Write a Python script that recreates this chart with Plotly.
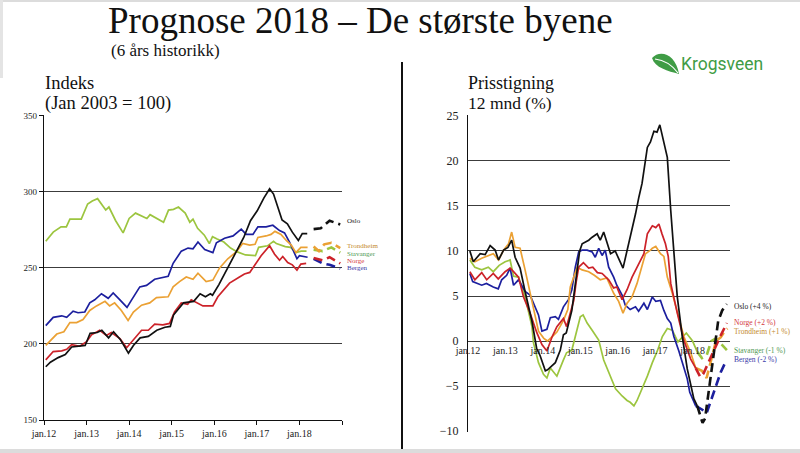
import plotly.graph_objects as go

W, H = 800, 453


def fx(p):
    return p / W


def fy(p):
    return 1 - p / H


# x values: months since Jan 2012
tick_months = [0, 12, 24, 36, 48, 60, 72, 84]
tick_text = ["jan.12", "jan.13", "jan.14", "jan.15", "jan.16", "jan.17", "jan.18", ""]

# ---------------- Left chart: index (Jan 2003 = 100) ----------------
idx_oslo = [(0.5, 185), (1.8, 188), (4, 191), (6, 193), (7.8, 198), (11.6, 199), (13, 207), (15, 207.5),
            (16.3, 209), (18.2, 204), (19.6, 208), (21.5, 203), (23.8, 194), (25.2, 199), (27.1, 204),
            (29.4, 205), (31.8, 209), (34.1, 211), (35.6, 211.5), (36.5, 219), (39.3, 227), (42.2, 228),
            (44, 233), (45.5, 231), (46.9, 233), (47.5, 232), (49.3, 239), (50.2, 243), (51.1, 247),
            (52.5, 253), (54.4, 261), (56.3, 270), (58.2, 281), (60.1, 287.5), (62, 296), (63.6, 302),
            (64.7, 298.5), (66.2, 287.5), (67.1, 281.5), (68.6, 279), (70, 273.5), (71.7, 268),
            (72.8, 272.5), (74.2, 272.5)]
idx_oslo_fc = [(76, 275.5), (78, 276), (80.5, 281), (83.5, 278.5)]

idx_bergen = [(0.5, 212), (2.6, 217.5), (5, 218.5), (6.4, 217.5), (8.2, 221.5), (9.6, 220.5), (11.5, 221),
              (12.9, 227), (14.3, 229), (16.2, 233), (18.1, 230), (19.5, 233.5), (21.4, 229), (23.4, 224),
              (24.7, 229), (27, 237.5), (28.9, 238.5), (31.2, 242.5), (35, 244.5), (36.4, 253), (38.7, 261),
              (40.6, 263), (42, 262.5), (43.4, 267), (45.3, 262), (47.6, 260), (48.6, 266.5), (50.9, 269.5),
              (53.3, 271), (55.6, 275.5), (57, 272), (58.9, 272), (60.3, 277), (62.6, 277), (64.5, 278),
              (66.4, 274.5), (67.8, 273), (69.2, 267), (71.3, 256), (72, 258), (74.3, 257)]
idx_bergen_fc = [(76, 256), (78.5, 253), (80.5, 252), (83.5, 249.5)]

idx_trondheim = [(0.5, 199), (1.5, 201.5), (3.6, 206.5), (5.6, 208), (7.3, 214), (9.2, 214), (11, 216),
                 (12.9, 222), (14.8, 225), (17.2, 228), (18.5, 225), (19.9, 227), (21.8, 222), (23.7, 215.5),
                 (25.2, 221), (27.5, 225.5), (29.8, 227), (31.7, 230.5), (35, 231), (36.4, 237.5),
                 (38.2, 241), (40.1, 244), (42, 242.5), (43.4, 246.5), (45.7, 241), (47.6, 242), (49.5, 250),
                 (51.8, 256), (54.2, 260.5), (56, 266), (58, 265), (59.5, 265.5), (60.3, 270), (62.6, 271),
                 (64, 272), (65.1, 274), (66.8, 272), (68.3, 268), (69.7, 265), (71, 260), (72.4, 263.5),
                 (74.3, 263.5)]
idx_trondheim_fc = [(76, 264), (77.5, 261), (79, 265.5), (81, 266.5), (83.5, 263)]

idx_stavanger = [(0.5, 267.5), (2.6, 273.5), (4.8, 277), (6.3, 277), (7.3, 282), (10.5, 282), (12.3, 292),
                 (13.6, 294), (15.1, 295.5), (17.4, 288), (18.3, 290), (20.2, 281), (22.3, 273), (24, 282.5),
                 (25.8, 286), (27.7, 284), (29, 282.5), (29.9, 285), (31.8, 282.5), (33.7, 280), (35.1, 288),
                 (36.5, 288.5), (37.9, 290), (39.8, 286), (41.1, 280), (42, 282), (43.3, 276), (45.2, 271.5),
                 (46.6, 266), (47.5, 270.5), (48.8, 269), (50.7, 267), (52.6, 263), (54.5, 260.5),
                 (56.8, 258.5), (59.6, 258), (60.5, 263.5), (63, 264.5), (64.7, 267.5), (65.5, 266),
                 (68, 264), (69.5, 263.5), (71, 260), (72.5, 261), (74, 261)]
idx_stavanger_fc = [(76, 262), (78.5, 261), (81, 263.5), (83.5, 260)]

idx_norge = [(0.5, 189.5), (2.6, 195), (5, 195.5), (6.4, 196.5), (7.8, 199.5), (10.1, 198.5), (12, 201.5),
             (13.4, 206), (15.7, 209), (17.6, 205.5), (19, 207.5), (21.4, 203.5), (23.3, 197.5), (25.2, 202.5),
             (27.5, 209), (29.4, 209), (31.2, 213), (33.5, 212.5), (35.4, 213.5), (36.8, 221), (38.7, 227),
             (40.5, 226), (41.5, 229), (44.8, 225), (47.6, 225), (49, 231), (52.3, 240), (55.1, 244),
             (56.5, 246), (58, 247), (59.8, 253), (61.2, 258), (63.6, 264.5), (65, 259), (66.4, 255),
             (67.3, 257.5), (68.7, 253.5), (70, 252), (71.3, 248.5), (72.4, 252.5), (73.9, 253)]
idx_norge_fc = [(76, 256.5), (78.5, 255), (80.5, 257), (83.5, 253)]

# ---------------- Right chart: 12-month price growth (%) ----------------
pct_oslo = [(0.6, 10), (1.7, 8.8), (3.9, 9.7), (5.5, 9.6), (7.1, 10.6), (8.7, 10.1), (9.8, 9), (11.4, 10.1),
            (12.8, 10.4), (14, 11.2), (15.1, 9.3), (16.7, 8.1), (18.3, 5.5), (20.5, 2.2), (22, -0.8),
            (23.1, -1.6), (24.8, -3.3), (25.5, -3.2), (28, -2.4), (29.6, -1), (30.6, 0.7), (31.5, 0.9),
            (33.3, 3.4), (35, 8), (35.8, 10), (36.6, 10.8), (38.7, 11.2), (39.7, 11.5), (41.4, 11.9),
            (42.4, 11.2), (43.5, 12.1), (45.7, 9.7), (47.2, 10), (49.7, 8.1), (51, 10), (52.6, 12.6),
            (53.7, 14.1), (54.8, 16), (55.8, 17.5), (57.5, 21.5), (58.5, 22.1), (59.6, 23.3), (60.6, 23.2),
            (61.5, 24), (62.8, 22.2), (63.9, 20.4), (65, 14.5), (66, 10.1), (67.1, 4.9), (68.7, 0.5),
            (70.3, -3.1), (72.4, -6.4), (73.5, -7.2)]
pct_oslo_fc = [(73.5, -7.2), (74.5, -8.5), (75.2, -9.1), (76, -8.6), (77, -6), (78, -3.2), (79, -0.4),
               (80.2, 2.2), (81.5, 3.4), (83, 4.1)]

pct_norge = [(0.6, 7.7), (2.2, 6.8), (4.4, 7.6), (6, 6.8), (8.1, 7.5), (9.7, 6.9), (11.9, 7.7), (13.5, 8.1),
             (14.6, 7.7), (16.2, 7.1), (17.8, 4.9), (19.9, 3.1), (22.1, 0.9), (23.7, -0.4), (25.3, -1.1),
             (27, 0.5), (28.5, 1.6), (30.6, 2.5), (31.6, 1.6), (33.9, 4.5), (34.7, 6.6), (35.5, 8.2),
             (37, 8.7), (38.7, 8.1), (40, 8.2), (41.5, 7.6), (43, 7.5), (45.1, 6.8), (46.7, 5.9), (47.7, 6),
             (49.4, 4.6), (51, 5.7), (52.6, 7.1), (54.8, 8.6), (56.4, 9.7), (57.5, 11.9), (59.1, 12.8),
             (60.2, 12.6), (61.2, 13), (62.2, 11.9), (63.3, 10.8), (64.2, 9.4), (65, 6.4), (67.1, 3.1),
             (69.2, 0.1), (71.4, -2), (73, -3)]
pct_norge_fc = [(73, -3), (74.5, -4), (75.5, -3.6), (77.5, -2), (79.5, -0.4), (81, 0.6), (83, 2)]

pct_trondheim = [(0.6, 9.2), (2.2, 8.8), (4.4, 9.2), (6.5, 9.5), (8.1, 9.7), (9.8, 9), (11.4, 10.1),
                 (13, 10.8), (14, 12.1), (15.1, 10.4), (16.7, 10.3), (18.3, 7.9), (20.5, 4.6), (22.6, 1.1),
                 (24.3, 0.3), (25.5, 0), (27, 0.5), (28.5, 1), (30.6, 2.3), (32, 3.5), (32.8, 6), (35, 8.2),
                 (36.6, 7.9), (38.7, 7.7), (40.5, 7.3), (42.4, 6.8), (44.5, 7), (46.7, 5.3), (48.3, 4.4),
                 (49.7, 3.1), (51, 4.2), (52.6, 4.9), (54.2, 6.4), (55.8, 8.2), (56.9, 9.7), (58.5, 10.1),
                 (59.1, 10.3), (60.2, 10.5), (61.7, 9.7), (62.8, 9.4), (63.9, 7.1), (65.5, 5.3), (67.1, 3.1),
                 (69.2, 0.5), (71.4, -1.3), (73, -3)]
pct_trondheim_fc = [(73, -3), (75, -3.3), (76.5, -4.1), (78, -2), (79.5, 0), (81, 0.4), (82.5, 1.2), (83.2, 1.4)]

pct_stavanger = [(0.6, 9), (2.2, 8.2), (4.4, 7.9), (6.5, 8.2), (8.1, 7.7), (10, 8.4), (11.9, 8.8), (13.5, 9),
                 (14.6, 7.2), (16.2, 7.1), (18.3, 4.9), (20.5, 1.6), (21, -0.2), (22.6, -2.4), (24.2, -3.7),
                 (25.3, -4.1), (26.4, -3), (28.5, -3.9), (30.6, -2.1), (31.6, -1.3), (33.3, -1), (34.3, 0.5),
                 (36, 2.7), (36.9, 2.9), (38.2, 2), (39.8, 1.2), (41.9, 0.1), (43.5, -2.1), (45.1, -3.5),
                 (47.3, -5.3), (49.4, -6.1), (51, -6.6), (52, -6.8), (53.2, -7.2), (54.2, -6.6), (55.8, -5.3),
                 (57.5, -3.9), (59.1, -2.4), (60.7, -1.1), (62.3, 0.5), (63.9, 1.4), (65.5, 1.2), (67.3, -0.1),
                 (70, 0.9), (72, 0), (73.5, -1.2)]
pct_stavanger_fc = [(73.5, -1.2), (75, -1.9), (76.5, -1.6), (78, 0), (79.5, 0.3), (81, -0.3), (83, -1)]

pct_bergen = [(0.6, 7.5), (1.5, 6.6), (4.4, 6.2), (5.9, 6.4), (8.1, 6), (9.7, 5.8), (10.8, 6.8), (12.4, 7.3),
              (13.5, 8.1), (14.6, 6.2), (16.2, 6.8), (18.3, 5.5), (19.9, 5.1), (21, 4.2), (22.6, 2.9),
              (23.7, 1.1), (25.3, 1.3), (26.4, 2.6), (28, 2.7), (29, 2.4), (30.6, 3.8), (32.2, 4.6),
              (33.3, 5.7), (34.4, 8.2), (35.5, 9.9), (36.6, 10.1), (38.2, 10.1), (39.8, 9.9), (40.8, 9.3),
              (41.9, 10.3), (43, 9.5), (44, 10.1), (45.1, 8.2), (46.7, 7.1), (47.7, 6.2), (49.4, 5.1),
              (50.4, 4), (52, 3.5), (53.7, 3.8), (54.7, 3.3), (56.4, 4.2), (57.5, 3.5), (59.1, 4.9),
              (60.2, 4.4), (61.7, 4.5), (62.8, 3.4), (63.9, 2.5), (65, 2), (66, 0.5), (67.6, -1.1),
              (69.2, -2.8), (70.3, -4.2), (71.1, -5.7), (71.9, -6.4), (73, -7.2)]
pct_bergen_fc = [(73, -7.2), (75, -7.6), (76.5, -8), (78, -6.5), (80, -4.3), (81, -3.5), (82.6, -2.3)]

colors = {
    "Oslo": "#111111",
    "Norge": "#cc2229",
    "Trondheim": "#eba134",
    "Stavanger": "#9cc53f",
    "Bergen": "#1c1f9e",
}
label_colors = {
    "Oslo": "#222222",
    "Norge": "#d4383d",
    "Trondheim": "#c48a2c",
    "Stavanger": "#4f9a55",
    "Bergen": "#3a3aa8",
}

left_series = [
    ("Stavanger", idx_stavanger, idx_stavanger_fc),
    ("Bergen", idx_bergen, idx_bergen_fc),
    ("Trondheim", idx_trondheim, idx_trondheim_fc),
    ("Norge", idx_norge, idx_norge_fc),
    ("Oslo", idx_oslo, idx_oslo_fc),
]
right_series = [
    ("Stavanger", pct_stavanger, pct_stavanger_fc),
    ("Bergen", pct_bergen, pct_bergen_fc),
    ("Trondheim", pct_trondheim, pct_trondheim_fc),
    ("Norge", pct_norge, pct_norge_fc),
    ("Oslo", pct_oslo, pct_oslo_fc),
]

left_labels = [("Oslo", 221), ("Trondheim", 246), ("Stavanger", 253.5), ("Norge", 260.5), ("Bergen", 267.5)]
right_labels = [("Oslo (+4 %)", "Oslo", 306), ("Norge (+2 %)", "Norge", 322),
                ("Trondheim (+1 %)", "Trondheim", 331), ("Stavanger (-1 %)", "Stavanger", 350),
                ("Bergen (-2 %)", "Bergen", 359)]

fig = go.Figure()


def add(series, xa, ya):
    for name, hist, fc in series:
        fig.add_trace(go.Scatter(
            x=[p[0] for p in hist], y=[p[1] for p in hist], mode="lines",
            line=dict(color=colors[name], width=1.7), xaxis=xa, yaxis=ya,
            showlegend=False, hoverinfo="skip"))
        fig.add_trace(go.Scatter(
            x=[p[0] for p in fc], y=[p[1] for p in fc], mode="lines",
            line=dict(color=colors[name], width=2.6, dash="9px,5px"), xaxis=xa, yaxis=ya,
            showlegend=False, hoverinfo="skip"))


add(left_series, "x", "y")
add(right_series, "x2", "y2")

serif = "Liberation Serif"
grid_c = "#3c3c3c"

fig.update_layout(
    width=W, height=H,
    margin=dict(l=0, r=0, t=0, b=0, pad=0, autoexpand=False),
    paper_bgcolor="white", plot_bgcolor="white",
    font=dict(family=serif, color="#222"),
    xaxis=dict(domain=[fx(44), fx(342)], range=[0, 84], tickvals=tick_months, ticktext=tick_text,
               showgrid=False, zeroline=False, showline=True, linecolor="#111", linewidth=1.2,
               ticks="outside", ticklen=4, tickcolor="#111", tickfont=dict(size=10, family=serif, color="#222"),
               anchor="y", automargin=False),
    yaxis=dict(domain=[fy(420), fy(115)], range=[150, 350.5], tickvals=[150, 200, 250, 300, 350],
               showgrid=True, gridcolor=grid_c, gridwidth=1, zeroline=False, showline=True,
               linecolor="#111", linewidth=1.2, ticks="outside", ticklen=4, tickcolor="#111",
               tickfont=dict(size=9, family=serif, color="#222"), anchor="x", automargin=False),
    xaxis2=dict(domain=[fx(468), fx(730)], range=[0, 84], tickvals=tick_months, ticktext=tick_text,
                showgrid=False, zeroline=False, showline=False, ticks="",
                tickfont=dict(size=10, family=serif, color="#222"),
                anchor="free", position=fy(342.5), automargin=False),
    yaxis2=dict(domain=[fy(432), fy(115)], range=[-10.1, 25.1], tickvals=[-10, -5, 0, 5, 10, 15, 20, 25],
                showgrid=True, gridcolor=grid_c, gridwidth=1, zeroline=False, showline=True,
                linecolor="#111", linewidth=1.2, ticks="", ticklabelstandoff=6,
                tickfont=dict(size=12, family=serif, color="#222"), anchor="x2", automargin=False),
)

annotations = [
    dict(text="Prognose 2018 – De største byene", x=fx(106), y=fy(20), font=dict(size=37, family=serif, color="#111")),
    dict(text="(6 års historikk)", x=fx(109), y=fy(50), font=dict(size=17, family=serif, color="#111")),
    dict(text="Indeks", x=fx(43), y=fy(83), font=dict(size=18.5, family=serif, color="#111")),
    dict(text="(Jan 2003 = 100)", x=fx(43), y=fy(103), font=dict(size=18.5, family=serif, color="#111")),
    dict(text="Prisstigning", x=fx(466), y=fy(83), font=dict(size=18, family=serif, color="#111")),
    dict(text="12 mnd (%)", x=fx(466), y=fy(103), font=dict(size=17.5, family=serif, color="#111")),
    dict(text="Krogsveen", x=fx(679), y=fy(64), font=dict(size=17.5, family="Roboto", color="#3f9c45")),
]
for name, ypix in left_labels:
    annotations.append(dict(text=name, x=fx(345), y=fy(ypix),
                            font=dict(size=7, family=serif, color=label_colors[name])))
for text, name, ypix in right_labels:
    annotations.append(dict(text=text, x=fx(732), y=fy(ypix),
                            font=dict(size=7.5, family=serif, color=label_colors[name])))
for a in annotations:
    a.update(xref="paper", yref="paper", xanchor="left", yanchor="middle", showarrow=False)
fig.update_layout(annotations=annotations)


def P(x, y):
    return f"{fx(x):.5f},{fy(y):.5f}"


leaf = f"M {P(652, 58)} C {P(660, 49)} {P(676, 54)} {P(679, 74)} C {P(668, 71)} {P(655, 68)} {P(652, 58)} Z"
vein = f"M {P(655, 59)} C {P(664, 60)} {P(672, 65)} {P(678, 73)}"
shapes = [
    dict(type="rect", xref="paper", yref="paper", x0=0, x1=1, y0=fy(453), y1=fy(449),
         fillcolor="#dcdcdc", line=dict(width=0), layer="below"),
    dict(type="rect", xref="paper", yref="paper", x0=0, x1=1, y0=fy(2), y1=1,
         fillcolor="#dcdcdc", line=dict(width=0), layer="below"),
    dict(type="rect", xref="paper", yref="paper", x0=0, x1=fx(3), y0=fy(78), y1=1,
         fillcolor="#e4e4e4", line=dict(width=0), layer="below"),
    dict(type="line", xref="paper", yref="paper", x0=fx(402), x1=fx(402), y0=fy(62), y1=fy(449),
         line=dict(color="#111", width=2)),
    dict(type="path", xref="paper", yref="paper", path=leaf, fillcolor="#3f9c45", line=dict(width=0)),
    dict(type="path", xref="paper", yref="paper", path=vein, line=dict(color="white", width=1.2)),
]
fig.update_layout(shapes=shapes)

fig.write_html("out.html", config={"displayModeBar": False},
               post_script="document.body.style.margin='0';document.body.style.overflow='hidden';")
